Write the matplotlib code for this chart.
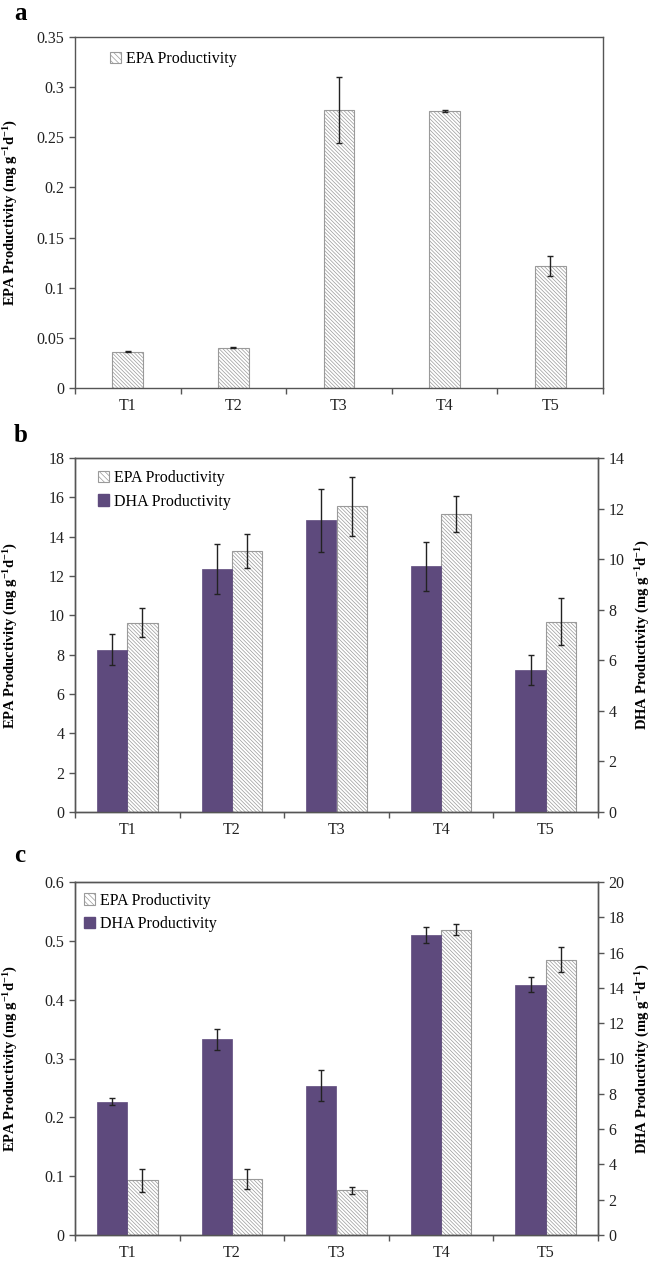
import matplotlib
matplotlib.use('Agg')
import matplotlib.pyplot as plt, numpy as np
from matplotlib.patches import Patch

plt.rcParams['font.family'] = ['Liberation Serif', 'DejaVu Serif']
plt.rcParams['mathtext.default'] = 'regular'
plt.rcParams['hatch.linewidth'] = 0.5

cats = ['T1', 'T2', 'T3', 'T4', 'T5']

# panel a - EPA only
epa_a = [0.036, 0.040, 0.277, 0.276, 0.122]
epa_a_err = [0.0005, 0.0005, 0.033, 0.001, 0.010]

# panel b
epa_b = [9.63, 13.27, 15.54, 15.15, 9.68]
epa_b_err = [0.75, 0.85, 1.5, 0.9, 1.2]
dha_b = [6.42, 9.61, 11.53, 9.72, 5.62]
dha_b_err = [0.6, 1.0, 1.25, 0.97, 0.6]

# panel c
epa_c = [0.093, 0.095, 0.076, 0.519, 0.468]
epa_c_err = [0.020, 0.017, 0.006, 0.009, 0.021]
dha_c = [7.55, 11.08, 8.47, 17.0, 14.17]
dha_c_err = [0.2, 0.58, 0.9, 0.45, 0.42]

purple = '#5e4a7d'
hatch_col = '#9a9a9a'
spine_col = '#555555'
HATCH = '\\' * 9
FS = 11.5

epa_lab = 'EPA Productivity (mg g$^{-1}$d$^{-1}$)'
dha_lab = 'DHA Productivity (mg g$^{-1}$d$^{-1}$)'

W, H = 657, 1262
fig = plt.figure(figsize=(W / 100, H / 100), dpi=100)


def box(l, r, t, b):
    return [l / W, 1 - b / H, (r - l) / W, (b - t) / H]


def style(ax):
    for s in ax.spines.values():
        s.set_color(spine_col)
        s.set_linewidth(1.0)
    ax.tick_params(axis='both', colors=spine_col, labelcolor='#222222',
                   labelsize=FS, direction='out', length=4, width=1)


def xaxis(ax):
    ax.set_xlim(-0.5, 4.5)
    ax.set_xticks(np.arange(-0.5, 5, 1))
    ax.set_xticklabels([])
    ax.set_xticks(np.arange(5), cats, minor=True)
    ax.tick_params(axis='x', which='minor', length=0, labelsize=FS,
                   labelcolor='#222222', pad=7)


x = np.arange(5)
epa_handle = Patch(facecolor='white', edgecolor=hatch_col, hatch='\\' * 6, lw=0.8)
dha_handle = Patch(facecolor=purple, edgecolor=purple)

# ---- a ----
ax = fig.add_axes(box(75, 603, 37, 388))
ax.bar(x, epa_a, 0.29, color='white', edgecolor=hatch_col, hatch=HATCH, lw=0.8,
       yerr=epa_a_err, error_kw=dict(ecolor='#222222', elinewidth=1, capsize=2))
ax.set_ylim(0, 0.35)
ax.set_yticks(np.arange(0, 0.351, 0.05), ['0', '0.05', '0.1', '0.15', '0.2', '0.25', '0.3', '0.35'])
xaxis(ax)
style(ax)
ax.set_ylabel(epa_lab, fontsize=10.5, fontweight='bold')
ax.yaxis.set_label_coords(-0.104, 0.5)
ax.legend([epa_handle], ['EPA Productivity'], loc='upper left',
          bbox_to_anchor=(0.066, 0.96), frameon=False, fontsize=FS,
          handlelength=0.7, handleheight=0.7, handletextpad=0.3,
          borderpad=0, borderaxespad=0)
fig.text(14 / W, 1 - 14 / H, 'a', fontsize=18, fontweight='bold', va='center')


def panel(top, bot, epa, epa_err, dha, dha_err, lmax, lstep, rmax, rstep, leg_xy, letter, lt):
    ax = fig.add_axes(box(75, 598, top, bot))
    ax2 = ax.twinx()
    bw = 0.29
    ax.bar(x + bw / 2, epa, bw, color='white', edgecolor=hatch_col, hatch=HATCH, lw=0.8,
           yerr=epa_err, error_kw=dict(ecolor='#222222', elinewidth=1, capsize=2))
    ax2.bar(x - bw / 2, dha, bw, color=purple, edgecolor=purple, lw=0.5,
            yerr=dha_err, error_kw=dict(ecolor='#222222', elinewidth=1, capsize=2))
    ax.set_ylim(0, lmax)
    ax2.set_ylim(0, rmax)
    lt_vals = np.arange(0, lmax + lstep / 2, lstep)
    ax.set_yticks(lt_vals, [('%g' % v) for v in np.round(lt_vals, 3)])
    rt_vals = np.arange(0, rmax + rstep / 2, rstep)
    ax2.set_yticks(rt_vals, [('%g' % v) for v in rt_vals])
    xaxis(ax)
    style(ax)
    style(ax2)
    ax.set_ylabel(epa_lab, fontsize=10.5, fontweight='bold')
    ax.yaxis.set_label_coords(-0.105, 0.5)
    ax2.set_ylabel(dha_lab, fontsize=10.5, fontweight='bold')
    ax2.yaxis.set_label_coords(1.068, 0.5)
    ax2.legend([epa_handle, dha_handle], ['EPA Productivity', 'DHA Productivity'],
               loc='upper left', bbox_to_anchor=leg_xy, frameon=False, fontsize=FS,
               handlelength=0.7, handleheight=0.7, handletextpad=0.3,
               labelspacing=0.45, borderpad=0, borderaxespad=0)
    fig.text(14 / W, 1 - lt / H, letter, fontsize=18, fontweight='bold', va='center')


panel(458, 812, epa_b, epa_b_err, dha_b, dha_b_err, 18, 2, 14, 2, (0.044, 0.965), 'b', 435)
panel(882, 1235, epa_c, epa_c_err, dha_c, dha_c_err, 0.6, 0.1, 20, 2, (0.017, 0.97), 'c', 856)

fig.savefig('out.png', dpi=100, facecolor='white')
